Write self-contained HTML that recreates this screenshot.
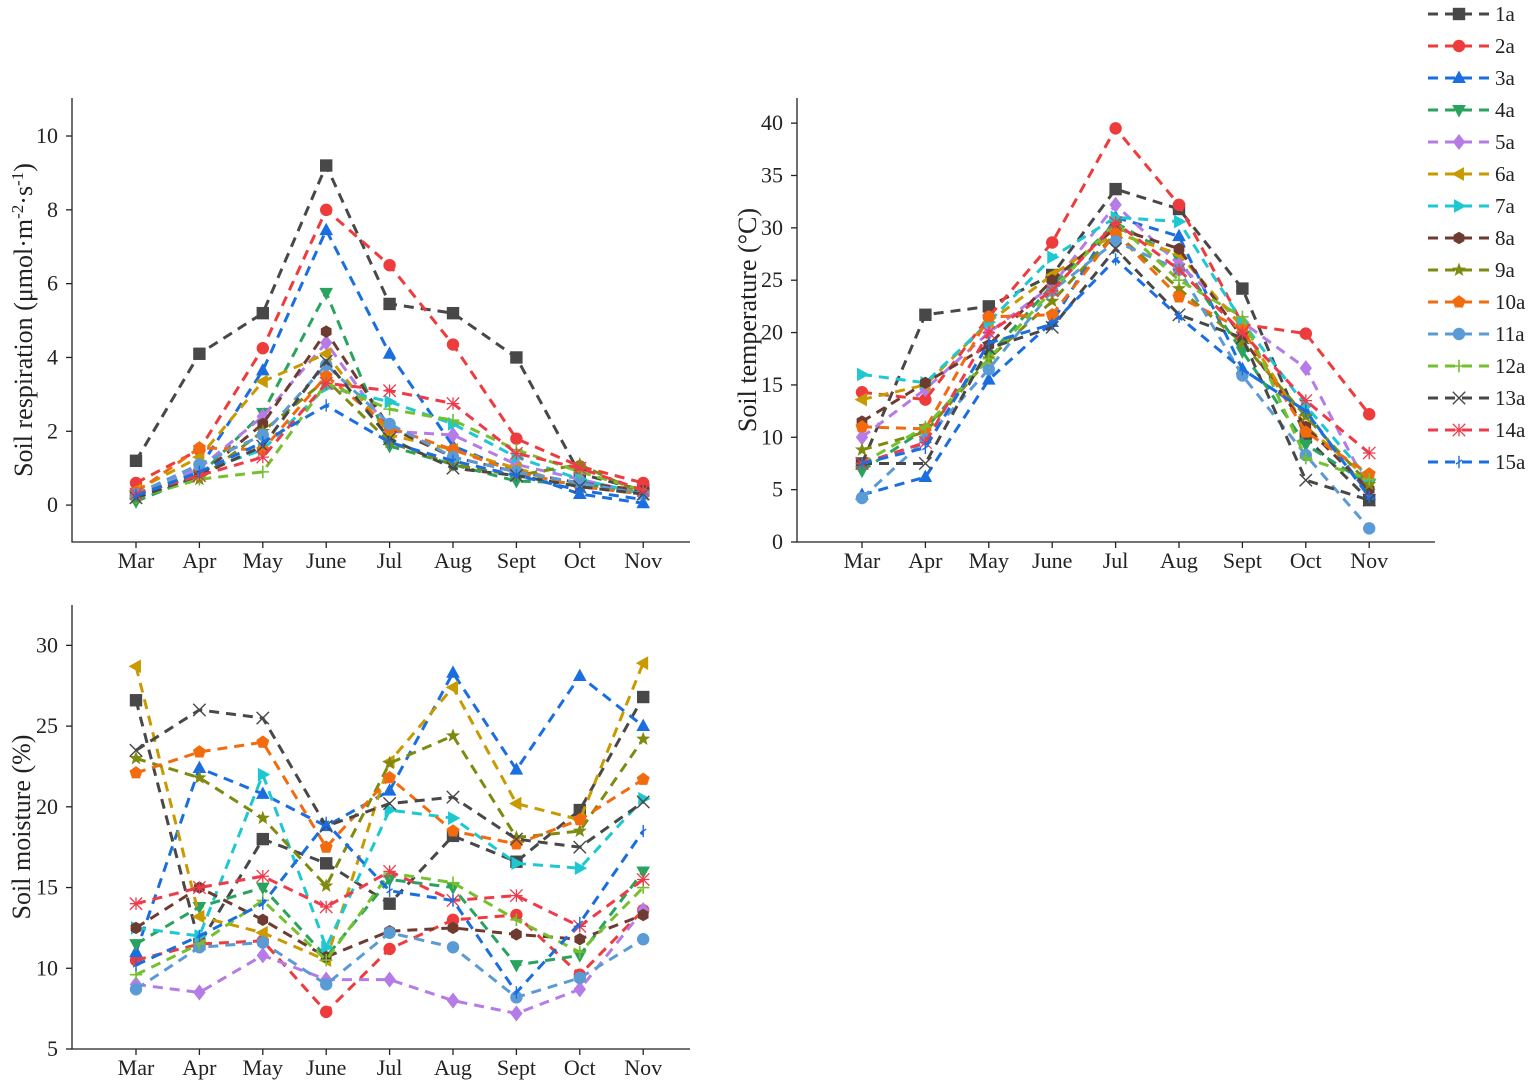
<!DOCTYPE html>
<html><head><meta charset="utf-8"><style>
html,body{margin:0;padding:0;background:#fff;}
svg{display:block;font-family:"Liberation Serif",serif;}
</style></head><body>
<svg id="c" width="1535" height="1085" viewBox="0 0 1535 1085" xmlns="http://www.w3.org/2000/svg"></svg>
<script>
const months=["Mar","Apr","May","June","Jul","Aug","Sept","Oct","Nov"];
const seriesNames=["1a","2a","3a","4a","5a","6a","7a","8a","9a","10a","11a","12a","13a","14a","15a"];
const colors=["#484848","#ee3b3b","#1a6ee0","#2aa35e","#b57be6","#c99a00","#1ec8d2","#6e3b30","#7f8a10","#f26b0f","#5b9bd5","#74c02e","#484848","#ee3b4b","#1a6ee0"];
const markers=["sq","circ","tu","td","dia","tl","tr","hex","star","pent","circ","plus","x","ast","bar"];
// Soil respiration
const sr1=[1.2,4.1,5.2,9.2,5.45,5.2,4.0,0.85,0.4];
const sr2=[0.6,1.5,4.25,8.0,6.5,4.35,1.8,1.05,0.6];
const sr3=[0.3,1.0,3.65,7.45,4.1,1.6,0.9,0.3,0.05];
const sr4=[0.1,0.8,2.5,5.75,1.6,1.1,0.65,0.6,0.3];
const sr5=[0.3,1.0,2.4,4.4,2.0,1.9,1.1,0.7,0.3];
const sr6=[0.4,1.3,3.35,4.1,1.9,1.5,1.0,0.5,0.3];
const sr7=[0.3,0.9,1.5,3.2,2.8,2.2,1.3,0.7,0.3];
const sr8=[0.3,0.8,2.2,4.7,2.1,1.3,0.9,0.6,0.4];
const sr9=[0.2,0.7,2.0,3.4,1.7,1.1,0.8,1.1,0.3];
const sr10=[0.35,1.55,1.5,3.5,2.1,1.5,0.9,0.5,0.3];
const sr11=[0.3,1.1,1.9,3.8,2.2,1.3,0.9,0.6,0.3];
const sr12=[0.2,0.7,0.9,3.3,2.6,2.3,1.5,0.9,0.4];
const sr13=[0.2,0.8,1.6,3.9,1.8,1.0,0.8,0.5,0.3];
const sr14=[0.3,0.8,1.3,3.3,3.1,2.75,1.4,1.0,0.4];
const sr15=[0.25,0.9,1.7,2.7,1.7,1.2,0.8,0.4,0.15];
// Soil temperature
const st1=[7.5,21.7,22.5,25.5,33.7,31.8,24.2,10,4];
const st2=[14.3,13.6,21.5,28.6,39.5,32.2,20.8,19.9,12.2];
const st3=[4.5,6.2,15.5,21,31,29.2,16.5,12.5,4.5];
const st4=[6.8,10.8,17.8,24.5,30.5,27,18.2,9.3,5.5];
const st5=[10,14.6,20,24.5,32.2,26.5,21,16.6,5];
const st6=[13.6,15,21,25.5,29.5,27.5,20.5,11,6];
const st7=[16,15.2,21,27.2,31,30.6,21,13,6];
const st8=[11.5,15.2,18.8,25,30,28,19.5,11,5];
const st9=[8.8,10.5,17.5,23,29.5,24.2,19,12,5.5];
const st10=[11,10.8,21.5,21.7,29.5,23.4,20.3,10.5,6.5];
const st11=[4.2,9.8,16.5,24,28.7,26,15.9,8.3,1.3];
const st12=[7.5,11,17.5,24,30.5,25,21.5,8,6];
const st13=[7.5,7.5,18.5,20.5,28,21.7,19.5,5.9,4];
const st14=[7.5,9.5,20,24,30.5,26,20,13.5,8.5];
const st15=[7.5,9,19,20.8,27,21.5,16.5,12.5,4.3];
// Soil moisture
const sm1=[26.6,11.5,18,16.5,14,18.2,16.6,19.8,26.8];
const sm2=[10.5,11.5,11.7,7.3,11.2,13,13.3,9.6,13.6];
const sm3=[11,22.4,20.8,18.8,21,28.3,22.3,28.1,25];
const sm4=[11.5,13.8,15,10.7,15.5,15,10.2,10.8,16];
const sm5=[9,8.5,10.8,9.3,9.3,8,7.2,8.7,13.6];
const sm6=[28.7,13.2,12.2,10.5,22.8,27.4,20.2,19.2,28.9];
const sm7=[12.5,12,22,11.3,19.8,19.3,16.5,16.2,20.5];
const sm8=[12.5,15,13,10.7,12.3,12.5,12.1,11.8,13.3];
const sm9=[23,21.8,19.3,15.1,22.7,24.4,18.1,18.5,24.2];
const sm10=[22.1,23.4,24,17.5,21.8,18.5,17.7,19.2,21.7];
const sm11=[8.7,11.3,11.6,9,12.2,11.3,8.2,9.4,11.8];
const sm12=[9.6,11.5,14.2,10.5,15.9,15.3,13,11,15];
const sm13=[23.5,26,25.5,18.8,20.2,20.6,18,17.5,20.3];
const sm14=[14,15,15.7,13.8,16,14.2,14.5,12.6,15.5];
const sm15=[10.2,12,14,19,14.8,14.2,8.5,12.8,18.5];
const srTicks=[0,2,4,6,8,10];
const stTicks=[0,5,10,15,20,25,30,35,40];
const smTicks=[5,10,15,20,25,30];

const NS="http://www.w3.org/2000/svg";
const svg=document.getElementById('c');
function mk(tag,attrs,parent){const e=document.createElementNS(NS,tag);for(const k in attrs)e.setAttribute(k,attrs[k]);(parent||svg).appendChild(e);return e;}

function marker(g,type,x,y,col,r){
  r=r||6.2;let e;
  const poly=(pts)=>mk('polygon',{points:pts.map(p=>(x+p[0])+','+(y+p[1])).join(' '),fill:col},g);
  if(type==='sq')e=mk('rect',{x:x-r,y:y-r,width:2*r,height:2*r,fill:col},g);
  else if(type==='circ')e=mk('circle',{cx:x,cy:y,r:r,fill:col},g);
  else if(type==='tu')e=poly([[0,-r*1.2],[r*1.1,r*0.8],[-r*1.1,r*0.8]]);
  else if(type==='td')e=poly([[0,r*1.2],[r*1.1,-r*0.8],[-r*1.1,-r*0.8]]);
  else if(type==='tl')e=poly([[-r*1.2,0],[r*0.8,r*1.1],[r*0.8,-r*1.1]]);
  else if(type==='tr')e=poly([[r*1.2,0],[-r*0.8,r*1.1],[-r*0.8,-r*1.1]]);
  else if(type==='dia')e=poly([[0,-r*1.3],[r,0],[0,r*1.3],[-r,0]]);
  else if(type==='hex'){const p=[];for(let i=0;i<6;i++){const a=Math.PI/6+i*Math.PI/3;p.push([r*Math.cos(a),r*Math.sin(a)]);}e=poly(p);}
  else if(type==='pent'){const p=[];for(let i=0;i<5;i++){const a=-Math.PI/2+i*2*Math.PI/5;p.push([r*1.1*Math.cos(a),r*1.1*Math.sin(a)]);}e=poly(p);}
  else if(type==='star'){const p=[];for(let i=0;i<10;i++){const a=-Math.PI/2+i*Math.PI/5;const rr=i%2?r*0.5:r*1.2;p.push([rr*Math.cos(a),rr*Math.sin(a)]);}e=poly(p);}
  else if(type==='plus'){e=mk('path',{d:`M${x-r} ${y}H${x+r}M${x} ${y-r}V${y+r}`,stroke:col,'stroke-width':1.6},g);}
  else if(type==='x'){e=mk('path',{d:`M${x-r} ${y-r}L${x+r} ${y+r}M${x-r} ${y+r}L${x+r} ${y-r}`,stroke:col,'stroke-width':1.4,fill:'none'},g);}
  else if(type==='ast'){e=mk('path',{d:`M${x-r} ${y-r}L${x+r} ${y+r}M${x-r} ${y+r}L${x+r} ${y-r}M${x-r} ${y}H${x+r}M${x} ${y-r}V${y+r}`,stroke:col,'stroke-width':1.3,fill:'none'},g);}
  else if(type==='bar'){e=mk('path',{d:`M${x-3} ${y+2}L${x+3} ${y-2}M${x} ${y-r}V${y+r}`,stroke:col,'stroke-width':1.4},g);}
  return e;
}

function panel(cfg){
  const {name,ax,top,bottom,right,x0,ymin,ymax,ticks,data,title,titleX}=cfg;
  const g=mk('g',{});
  
  
  const X=i=>x0+i*63.4;
  const Y=v=>bottom-(v-ymin)/(ymax-ymin)*(bottom-top);
  const axes=mk('path',{d:`M${ax} ${top}V${bottom}H${right}`,stroke:'#222','stroke-width':1.3,fill:'none'},g);
  
  
  ticks.forEach(t=>{
    const y=Y(t);
    mk('line',{x1:ax-6,x2:ax,y1:y,y2:y,stroke:'#222','stroke-width':1.3},g);
    const tx=mk('text',{x:ax-14,y:y+7,'text-anchor':'end','font-size':22,fill:'#222'},g);
    tx.textContent=t;
    
    
  });
  months.forEach((m,i)=>{
    const x=X(i);
    mk('line',{x1:x,x2:x,y1:bottom,y2:bottom+6,stroke:'#222','stroke-width':1.3},g);
    const tx=mk('text',{x:x,y:bottom+26,'text-anchor':'middle','font-size':22,fill:'#222'},g);
    tx.textContent=m;
    
    
  });
  const cy=(top+bottom)/2;
  const tt=mk('text',{x:titleX,y:cy,'text-anchor':'middle','font-size':26,fill:'#222',transform:`rotate(-90 ${titleX} ${cy})`},g);
  tt.innerHTML=title;
  
  
  data.forEach((arr,s)=>{
    const sg=mk('g',{},g);
    
    
    const pts=arr.map((v,i)=>X(i)+','+Y(v)).join(' ');
    const pl=mk('polyline',{points:pts,fill:'none',stroke:colors[s],'stroke-width':3,'stroke-dasharray':'10,7'},sg);
    
    
    arr.forEach((v,i)=>{
      const m=marker(sg,markers[s],X(i),Y(v),colors[s]);
      
      
    });
  });
}

panel({name:'soil-respiration-chart',ax:72,top:98,bottom:542,right:690,x0:136,ymin:-1,ymax:11.03,ticks:srTicks,
  data:[sr1,sr2,sr3,sr4,sr5,sr6,sr7,sr8,sr9,sr10,sr11,sr12,sr13,sr14,sr15],
  title:'Soil respiration (μmol·m<tspan dy="-9" font-size="17">-2</tspan><tspan dy="9">·s</tspan><tspan dy="-9" font-size="17">-1</tspan><tspan dy="9">)</tspan>',titleX:32});
panel({name:'soil-temperature-chart',ax:797,top:98,bottom:542,right:1435,x0:862,ymin:0,ymax:42.4,ticks:stTicks,
  data:[st1,st2,st3,st4,st5,st6,st7,st8,st9,st10,st11,st12,st13,st14,st15],
  title:'Soil temperature (°C)',titleX:756});
panel({name:'soil-moisture-chart',ax:72,top:605,bottom:1049,right:690,x0:136,ymin:5,ymax:32.5,ticks:smTicks,
  data:[sm1,sm2,sm3,sm4,sm5,sm6,sm7,sm8,sm9,sm10,sm11,sm12,sm13,sm14,sm15],
  title:'Soil moisture (%)',titleX:30});

const lg=mk('g',{});


seriesNames.forEach((n,s)=>{
  const y=14+s*32;
  const eg=mk('g',{},lg);
  
  
  mk('line',{x1:1428,x2:1490,y1:y,y2:y,stroke:colors[s],'stroke-width':3,'stroke-dasharray':'10,7'},eg);
  marker(eg,markers[s],1459,y,colors[s]);
  const t=mk('text',{x:1495,y:y+7,'font-size':21,fill:'#222'},eg);
  t.textContent=n;
});
</script>
</body></html>
